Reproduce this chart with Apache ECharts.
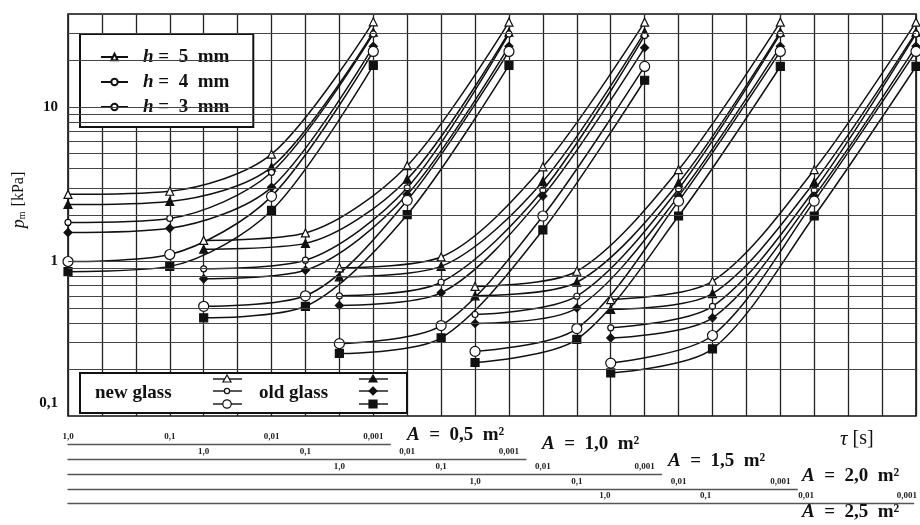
<!DOCTYPE html>
<html><head><meta charset="utf-8">
<script src="https://cdn.jsdelivr.net/npm/echarts@6/dist/echarts.min.js"></script>
<style>html,body{margin:0;padding:0;background:#fff}#c{width:920px;height:525px}</style>
</head><body><div id="c"></div>
<script>
// ---------- data ----------
const tau = [1.0, 0.1, 0.01, 0.001];               // tau [s] at the marker columns
const tauLabels = ['1,0', '0,1', '0,01', '0,001'];
const areas = ['0,5', '1,0', '1,5', '2,0', '2,5'];  // A [m2], one tau scale each
const yTickValues = [0.1, 1, 10];
const yTickLabels = ['0,1', '1', '10'];
const hNames = ['h = 5 mm', 'h = 4 mm', 'h = 3 mm'];

// p [kPa]: one row per area (A = 0,5 ... 2,5), values at tau = 1,0 / 0,1 / 0,01 / 0,001
const newH5 = [[2.72, 2.85, 4.95, 35.6], [1.37, 1.53, 4.17, 35.4], [0.91, 1.07, 4.10, 35.4], [0.69, 0.865, 3.93, 35.4], [0.567, 0.745, 3.93, 35.4]];
const oldH5 = [[2.34, 2.45, 4.08, 30.5], [1.20, 1.31, 3.41, 30.5], [0.796, 0.93, 3.30, 30.5], [0.60, 0.734, 3.23, 30.5], [0.49, 0.62, 3.26, 30.5]];
const newH4 = [[1.79, 1.90, 3.78, 29.7], [0.897, 1.02, 3.00, 29.7], [0.60, 0.734, 2.90, 29.0], [0.454, 0.596, 2.95, 29.7], [0.372, 0.513, 2.90, 29.7]];
const oldH4 = [[1.54, 1.64, 3.02, 24.7], [0.773, 0.878, 2.71, 24.7], [0.52, 0.627, 2.65, 24.2], [0.397, 0.50, 2.65, 24.7], [0.32, 0.432, 2.65, 24.7]];
const newH3 = [[1.00, 1.11, 2.64, 22.9], [0.513, 0.60, 2.49, 22.9], [0.294, 0.385, 1.97, 18.3], [0.262, 0.368, 2.46, 22.9], [0.22, 0.332, 2.46, 22.9]];
const oldH3 = [[0.86, 0.93, 2.14, 18.6], [0.432, 0.513, 2.01, 18.6], [0.254, 0.32, 1.60, 14.9], [0.222, 0.313, 1.97, 18.3], [0.19, 0.272, 1.97, 18.3]];

// ---------- layout ----------
const FONT = 'Liberation Serif';
const INK = '#111';
const CELLS = 25, CELLS_PER_DECADE = 3, SHIFT = 4;   // grid cells; each area scale shifted by 4 cells
const plotL = 68, plotR = 916, plotT = 14, plotB = 416;
const cellW = (plotR - plotL) / CELLS;
function tauAt(g, cell) { return Math.pow(10, (SHIFT * g - cell) / CELLS_PER_DECADE); }
function cellOf(g, t) { return SHIFT * g - CELLS_PER_DECADE * Math.log10(t); }
const rowLineY = [444, 459, 474, 489, 503];
const rowEndCell = [9.5, 13.5, 17.5, 21.5, 25.2];
const nameX = [407, 542, 668, 802, 802];
const nameY = [435, 444, 461, 476, 512];

function near(a, b) { return Math.abs(Math.log10(a) - Math.log10(b)) < 1e-6; }
function yFmt(v) {
  for (let i = 0; i < yTickValues.length; i++) if (near(v, yTickValues[i])) return i === 0 ? '{lo|' + yTickLabels[i] + '}' : yTickLabels[i];
  return '';
}
function rowFmt(g) {
  return c => { for (let i = 0; i < tau.length; i++) if (Math.abs(c - cellOf(g, tau[i])) < 1e-6) return tauLabels[i]; return ''; };
}
// horizontal log grid levels (1..9 per decade)
const yGrid = [];
[0.1, 1, 10].forEach(d => { for (let m = 1; m <= 9; m++) { const v = +(d * m).toPrecision(3); if (v > 0.1 && v <= 40) yGrid.push(v); } });

const grids = [{ left: plotL, right: 920 - plotR, top: plotT, bottom: 525 - plotB, show: true, borderColor: INK, borderWidth: 1.6 }];
const xAxes = [], yAxes = [];
for (let g = 0; g < 5; g++) {
  xAxes.push({ type: 'log', logBase: 10, gridIndex: 0, inverse: true, min: tauAt(g, CELLS), max: tauAt(g, 0), show: false });
}
xAxes.push({ type: 'value', gridIndex: 0, min: 0, max: CELLS, interval: 1,
  axisLine: { show: false }, axisTick: { show: false }, axisLabel: { show: false },
  splitLine: { show: true, lineStyle: { color: '#222', width: 1.3 } } });
yAxes.push({ type: 'log', logBase: 10, gridIndex: 0, min: 0.1, max: 40,
  axisLine: { show: false }, axisTick: { show: false }, splitLine: { show: false },
  axisLabel: { formatter: yFmt, margin: 10, fontFamily: FONT, fontSize: 15, fontWeight: 'bold', color: INK,
    rich: { lo: { padding: [0, 0, 26, 0], fontFamily: FONT, fontSize: 15, fontWeight: 'bold', color: INK } } },
  name: '{p|p}{s|m} [kPa]', nameLocation: 'middle', nameGap: 40, nameRotate: 90,
  nameTextStyle: { fontFamily: FONT, fontSize: 16, color: INK, padding: [0, 0, 0, 30],
    rich: { p: { fontFamily: FONT, fontSize: 18, fontStyle: 'italic', color: INK }, s: { fontFamily: FONT, fontSize: 10, color: INK, padding: [7, 1, 0, 0] } } } });

// tau scales, one per area, drawn under the plot
for (let g = 0; g < 5; g++) {
  grids.push({ left: plotL, width: cellW * rowEndCell[g], top: rowLineY[g] - 1, height: 1 });
  xAxes.push({ type: 'value', gridIndex: 1 + g, position: 'bottom', min: 0, max: rowEndCell[g], interval: 1,
    axisLine: { show: true, onZero: false, lineStyle: { color: '#555', width: 1.4 } },
    axisTick: { show: false }, splitLine: { show: false },
    axisLabel: { inside: true, margin: 3, formatter: rowFmt(g), showMinLabel: true, showMaxLabel: true,
      fontFamily: FONT, fontSize: 9, fontWeight: 'bold', color: '#222' } });
  yAxes.push({ type: 'value', gridIndex: 1 + g, show: false, min: 0, max: 1 });
}

const curveSets = [
  { vals: newH5, name: hNames[0], symbol: 'triangle', size: 8, fill: '#fff' },
  { vals: oldH5, name: 'old ' + hNames[0], symbol: 'triangle', size: 8, fill: INK },
  { vals: newH4, name: hNames[1], symbol: 'circle', size: 6, fill: '#fff' },
  { vals: oldH4, name: 'old ' + hNames[1], symbol: 'diamond', size: 8, fill: INK },
  { vals: newH3, name: hNames[2], symbol: 'circle', size: 10, fill: '#fff' },
  { vals: oldH3, name: 'old ' + hNames[2], symbol: 'rect', size: 8, fill: INK }
];

const series = [{
  type: 'line', name: 'grid', xAxisIndex: 5, yAxisIndex: 0, data: [[0, 1]], symbol: 'none', silent: true, z: 1,
  lineStyle: { width: 0 },
  markLine: { silent: true, symbol: 'none', animation: false, label: { show: false },
    lineStyle: { color: '#444', width: 1.1, type: 'solid' }, emphasis: { disabled: true },
    data: yGrid.map(v => ({ yAxis: v })) }
}];
for (let g = 0; g < 5; g++) {
  curveSets.forEach(cs => {
    series.push({ type: 'line', name: cs.name, xAxisIndex: g, yAxisIndex: 0,
      data: tau.map((t, i) => [t, cs.vals[g][i]]),
      smooth: 0.3, symbol: cs.symbol, symbolSize: cs.size, showAllSymbol: true, silent: true, z: 3,
      emphasis: { disabled: true },
      itemStyle: { color: cs.fill, borderColor: INK, borderWidth: 1.2 },
      lineStyle: { color: INK, width: 1.5 } });
  });
}

// legend "new glass / old glass" and free texts drawn as graphic
function icon(x0, y, kind, filled) {
  const cx = x0 + 14, st = { fill: filled ? INK : '#fff', stroke: INK, lineWidth: 1.2 };
  const els = [{ type: 'line', z: 21, shape: { x1: x0, y1: y, x2: x0 + 29, y2: y }, style: { stroke: INK, lineWidth: 1.4 } }];
  if (kind === 'tri') els.push({ type: 'polygon', z: 22, shape: { points: [[cx, y - 4], [cx - 4, y + 3], [cx + 4, y + 3]] }, style: st });
  if (kind === 'dot') els.push({ type: 'circle', z: 22, shape: { cx: cx, cy: y, r: 2.6 }, style: st });
  if (kind === 'circ') els.push({ type: 'circle', z: 22, shape: { cx: cx, cy: y, r: 4.2 }, style: st });
  if (kind === 'dia') els.push({ type: 'polygon', z: 22, shape: { points: [[cx, y - 4], [cx + 4, y], [cx, y + 4], [cx - 4, y]] }, style: st });
  if (kind === 'sq') els.push({ type: 'rect', z: 22, shape: { x: cx - 4, y: y - 4, width: 8, height: 8 }, style: st });
  return els;
}
const tfont = 'bold 19px "Liberation Serif"';
const graphic = [
  { type: 'rect', z: 20, shape: { x: 80, y: 373, width: 327, height: 40 }, style: { fill: '#fff', stroke: INK, lineWidth: 2 } },
  { type: 'text', z: 21, x: 95, y: 393, style: { text: 'new glass', font: tfont, fill: INK, verticalAlign: 'middle' } },
  { type: 'text', z: 21, x: 259, y: 393, style: { text: 'old glass', font: tfont, fill: INK, verticalAlign: 'middle' } },
  ...icon(213, 379, 'tri', false), ...icon(213, 391, 'dot', false), ...icon(213, 404, 'circ', false),
  ...icon(359, 379, 'tri', true), ...icon(359, 391, 'dia', true), ...icon(359, 404, 'sq', true),
  { type: 'text', z: 21, x: 840, y: 439, style: { text: '{i|τ} [s]', fontFamily: FONT, fontSize: 20, fill: INK, verticalAlign: 'middle',
      rich: { i: { fontFamily: FONT, fontSize: 21, fontStyle: 'italic', fill: INK } } } }
];
areas.forEach((a, g) => {
  graphic.push({ type: 'text', z: 21, x: nameX[g], y: nameY[g], style: {
    text: '{i|A}  =  ' + a + '  m²', fontFamily: FONT, fontSize: 19, fontWeight: 'bold', fill: INK, verticalAlign: 'middle',
    rich: { i: { fontFamily: FONT, fontSize: 19, fontStyle: 'italic', fontWeight: 'bold', fill: INK } } } });
});

const chart = echarts.init(document.getElementById('c'), null, { renderer: 'canvas' });
chart.setOption({
  animation: false,
  backgroundColor: '#fff',
  grid: grids, xAxis: xAxes, yAxis: yAxes, series: series, graphic: graphic,
  legend: {
    data: hNames, orient: 'vertical', left: 80, top: 34, padding: [13, 24, 10, 20],
    itemWidth: 27, itemHeight: 8, itemGap: 5, selectedMode: false,
    backgroundColor: '#fff', borderColor: INK, borderWidth: 2,
    textStyle: { fontFamily: FONT, fontSize: 19, fontWeight: 'bold', color: INK, lineHeight: 20, padding: [0, 0, 0, 10],
      rich: { i: { fontFamily: FONT, fontSize: 19, fontStyle: 'italic', fontWeight: 'bold', color: INK } } },
    formatter: n => '{i|h}' + n.slice(1).replace(' = ', ' =  ').replace(' mm', '  mm')
  }
});
</script></body></html>
